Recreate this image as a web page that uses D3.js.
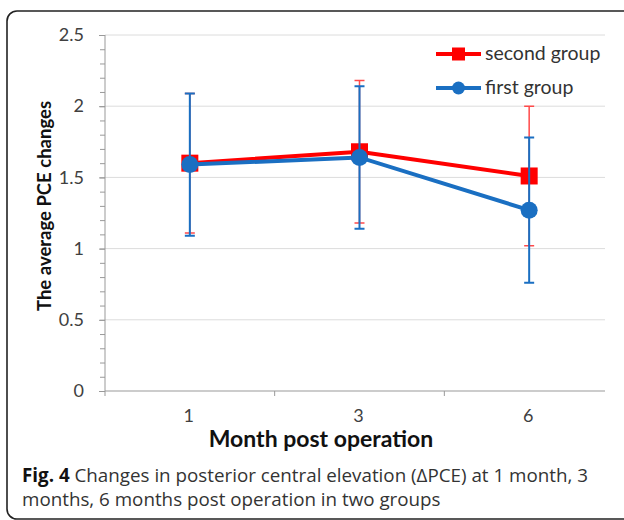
<!DOCTYPE html>
<head>
    <script src="https://d3js.org/d3.v7.min.js"></script>
    <style>
        body { margin: 0; background: #fff; }
        text { font-family: Lato, "Open Sans", sans-serif; }
    </style>
</head>
<body>
<svg width="624" height="520"></svg>
<script>
    // months after operation
    var months = ["1", "3", "6"];
    // second group (red squares)
    var secondMean = [1.60, 1.68, 1.51];
    var secondSd = [0.49, 0.50, 0.49];
    // first group (blue circles)
    var firstMean = [1.59, 1.64, 1.27];
    var firstSd = [0.50, 0.50, 0.51];
    var yTicks = [0, 0.5, 1, 1.5, 2, 2.5];
    var yMinor = d3.range(0, 25).map(function(i) { return i / 10; });

    var svg = d3.select("svg");

    var red = "#ff0000", blue = "#1a6fc2";

    // frame round the figure
    svg.append("rect")
        .attr("x", 7).attr("y", 11)
        .attr("width", 630).attr("height", 508)
        .attr("rx", 10)
        .attr("fill", "none")
        .attr("stroke", "#222")
        .attr("stroke-width", 1.6);

    var x = d3.scaleBand().domain(months).range([105, 614]);
    var y = d3.scaleLinear().domain([0, 2.5]).range([391, 35]);
    var plotRight = 605;

    // gridlines
    svg.append("g")
        .selectAll("line")
        .data(yTicks.slice(1))
        .enter().append("line")
        .attr("x1", 105).attr("x2", plotRight)
        .attr("y1", function(d) { return y(d); })
        .attr("y2", function(d) { return y(d); })
        .attr("stroke", "#dcdcdc")
        .attr("stroke-width", 1);

    // y axis, minor ticks then major ticks with labels
    var yMinorAxis = svg.append("g")
        .attr("transform", "translate(105,0)")
        .call(d3.axisLeft(y).tickValues(yMinor).tickSize(5).tickFormat(""));
    yMinorAxis.select(".domain").remove();
    yMinorAxis.selectAll("line").attr("stroke", "#999");

    var yAxis = svg.append("g")
        .attr("transform", "translate(105,0)")
        .call(d3.axisLeft(y).tickValues(yTicks).tickSize(6).tickPadding(15)
            .tickFormat(function(d) { return d; }));
    yAxis.select(".domain").attr("stroke", "#999").attr("d", "M0," + y(0) + "V" + y(2.5));
    yAxis.selectAll("line").attr("stroke", "#999");
    yAxis.selectAll("text")
        .attr("font-size", 18)
        .attr("fill", "#404040")
        .style("font-family", "Lato, sans-serif");

    // x axis
    svg.append("line")
        .attr("x1", 105).attr("x2", plotRight)
        .attr("y1", y(0)).attr("y2", y(0))
        .attr("stroke", "#999");
    svg.append("g")
        .selectAll("line")
        .data(months)
        .enter().append("line")
        .attr("x1", function(d) { return x(d); })
        .attr("x2", function(d) { return x(d); })
        .attr("y1", y(0)).attr("y2", y(0) + 5)
        .attr("stroke", "#999");
    svg.append("g")
        .selectAll("text")
        .data(months)
        .enter().append("text")
        .attr("x", function(d) { return x(d) + x.bandwidth() / 2 - 1; })
        .attr("y", 422)
        .attr("text-anchor", "middle")
        .attr("font-size", 18)
        .attr("fill", "#404040")
        .text(function(d) { return d; });

    // axis titles
    svg.append("text")
        .attr("x", 321).attr("y", 447)
        .attr("text-anchor", "middle")
        .attr("font-size", 23)
        .attr("font-weight", "bold")
        .attr("fill", "#111")
        .text("Month post operation");
    svg.append("text")
        .attr("transform", "translate(51,206) rotate(-90)")
        .attr("text-anchor", "middle")
        .attr("font-size", 18.5)
        .attr("font-weight", "bold")
        .attr("fill", "#111")
        .text("The average PCE changes");

    function cx(i) { return x(months[i]) + x.bandwidth() / 2; }

    function drawSeries(mean, sd, color, barColor, barWidth, shape) {
        var g = svg.append("g");
        var idx = d3.range(mean.length);
        // error bars
        g.selectAll(".bar")
            .data(idx)
            .enter().append("path")
            .attr("d", function(i) {
                var top = y(mean[i] + sd[i]), bot = y(mean[i] - sd[i]);
                return "M" + (cx(i) - 5) + "," + top + "H" + (cx(i) + 5) +
                    "M" + cx(i) + "," + top + "V" + bot +
                    "M" + (cx(i) - 5) + "," + bot + "H" + (cx(i) + 5);
            })
            .attr("fill", "none")
            .attr("stroke", barColor)
            .attr("stroke-width", barWidth);
        // line
        g.append("path")
            .datum(idx)
            .attr("d", d3.line()
                .x(function(i) { return cx(i); })
                .y(function(i) { return y(mean[i]); }))
            .attr("fill", "none")
            .attr("stroke", color)
            .attr("stroke-width", 4);
        // markers
        if (shape == "square") {
            g.selectAll(".m")
                .data(idx)
                .enter().append("rect")
                .attr("x", function(i) { return cx(i) - 8.5; })
                .attr("y", function(i) { return y(mean[i]) - 8.5; })
                .attr("width", 17).attr("height", 17)
                .attr("fill", color);
        } else {
            g.selectAll(".m")
                .data(idx)
                .enter().append("circle")
                .attr("cx", function(i) { return cx(i); })
                .attr("cy", function(i) { return y(mean[i]); })
                .attr("r", 8.5)
                .attr("fill", color);
        }
    }

    drawSeries(secondMean, secondSd, red, "#ff4a4a", 1.5, "square");
    drawSeries(firstMean, firstSd, blue, blue, 2, "circle");

    // legend
    var legend = [
        { name: "second group", color: red, shape: "square", y: 54 },
        { name: "first group", color: blue, shape: "circle", y: 88 }
    ];
    var lg = svg.append("g");
    legend.forEach(function(d) {
        lg.append("line")
            .attr("x1", 436).attr("x2", 481)
            .attr("y1", d.y).attr("y2", d.y)
            .attr("stroke", d.color).attr("stroke-width", 4);
        if (d.shape == "square") {
            lg.append("rect")
                .attr("x", 452).attr("y", d.y - 6.5)
                .attr("width", 13).attr("height", 13)
                .attr("fill", d.color);
        } else {
            lg.append("circle")
                .attr("cx", 458.5).attr("cy", d.y).attr("r", 6.5)
                .attr("fill", d.color);
        }
        lg.append("text")
            .attr("x", 485).attr("y", d.y + 6)
            .attr("font-size", 19.5)
            .attr("fill", "#333")
            .text(d.name);
    });

    // figure caption
    var cap = svg.append("g")
        .attr("font-size", 18.8)
        .attr("fill", "#333");
    var l1 = cap.append("text").attr("x", 22).attr("y", 482).style("font-family", "'Open Sans', sans-serif");
    l1.append("tspan").attr("font-weight", "bold").attr("fill", "#111").text("Fig. 4");
    l1.append("tspan").text(" Changes in posterior central elevation (\u0394PCE) at 1 month, 3");
    cap.append("text").attr("x", 22).attr("y", 506).style("font-family", "'Open Sans', sans-serif")
        .text("months, 6 months post operation in two groups");
</script>
</body>
